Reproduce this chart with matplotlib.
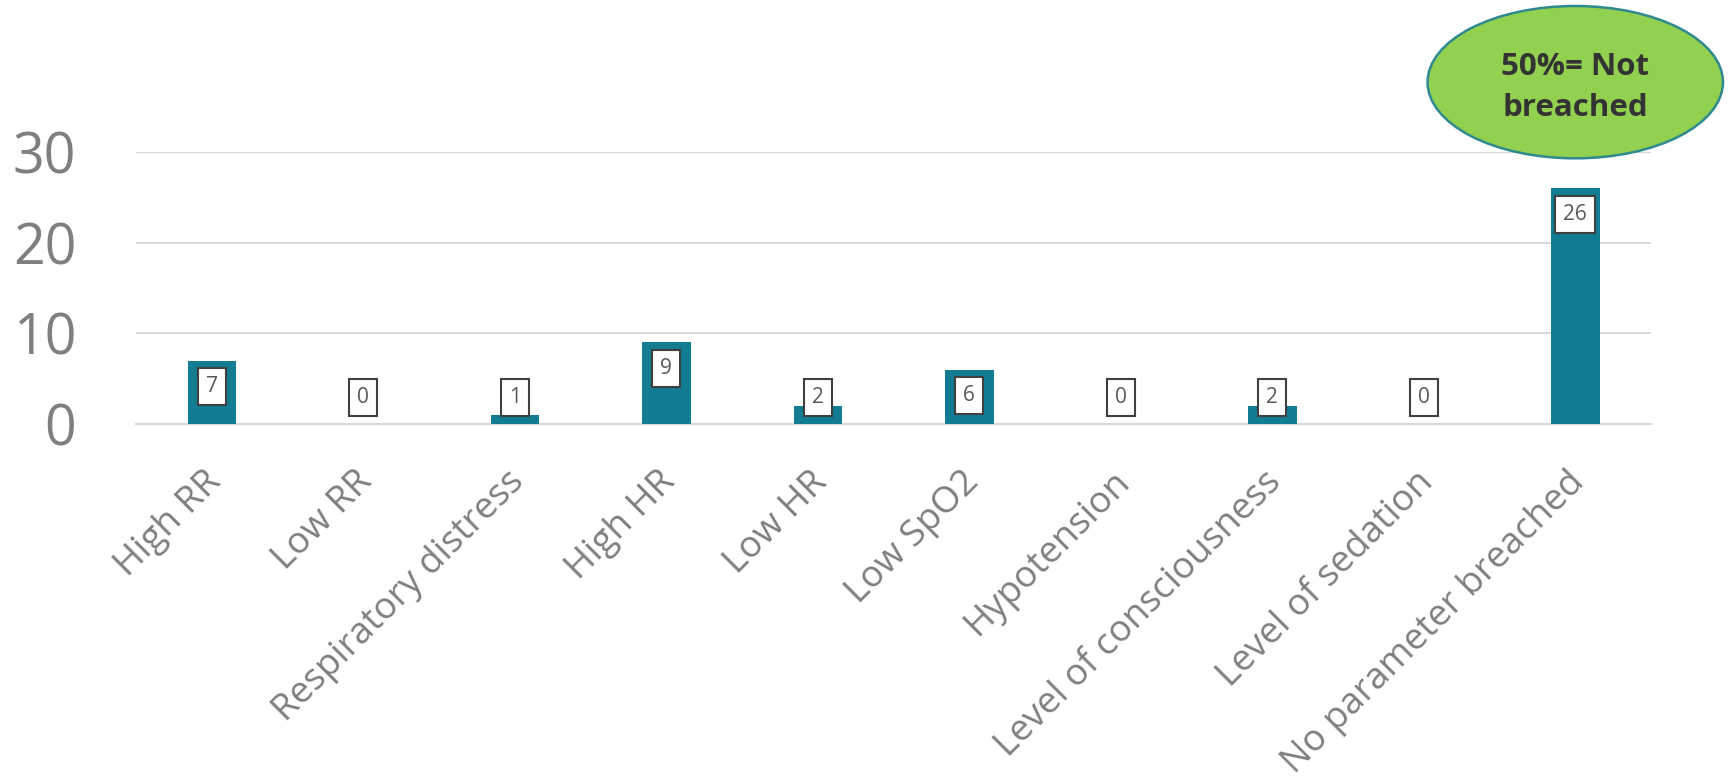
import matplotlib.pyplot as plt
from matplotlib.patches import Ellipse
from matplotlib.transforms import ScaledTranslation

# -----------------------------------------------------------------------
# Data
# -----------------------------------------------------------------------
categories = [
    "High RR", "Low RR", "Respiratory distress", "High HR", "Low HR",
    "Low SpO2", "Hypotension", "Level of consciousness", "Level of sedation",
    "No parameter breached",
]
counts = [7, 0, 1, 9, 2, 6, 0, 2, 0, 26]
y_ticks = [0, 10, 20, 30]
callout_text = "50%= Not\nbreached"

BAR_COLOR = "#127C92"
GRID_COLOR = "#D9D9D9"
TEXT_GRAY = "#7F7F7F"

plt.rcParams["font.family"] = ["Open Sans", "DejaVu Sans"]

fig = plt.figure(figsize=(17.29, 7.83), dpi=100)
ax = fig.add_axes([0.0787, 0.4585, 0.8762, 0.3474])

x = list(range(len(categories)))
ax.bar(x, counts, width=0.32, color=BAR_COLOR, zorder=3)

ax.set_xlim(-0.5, len(categories) - 0.5)
ax.set_ylim(0, 30)
ax.set_yticks(y_ticks)
ax.set_yticklabels([str(t) for t in y_ticks], fontsize=40, color=TEXT_GRAY)
ax.tick_params(axis="y", length=0, pad=43)

# gridlines (including the baseline)
ax.grid(axis="y", color=GRID_COLOR, linewidth=1.5, zorder=0)
for s in ["top", "right", "left"]:
    ax.spines[s].set_visible(False)
ax.spines["bottom"].set_color(GRID_COLOR)
ax.spines["bottom"].set_linewidth(1.5)

# rotated category labels
ax.set_xticks(x)
ax.set_xticklabels(categories, fontsize=26.5, color=TEXT_GRAY, rotation=45,
                   ha="right", va="center", rotation_mode="anchor")
ax.tick_params(axis="x", length=0, pad=38)
shift = ScaledTranslation(0.04, 0, fig.dpi_scale_trans)
for lab in ax.get_xticklabels():
    lab.set_transform(lab.get_transform() + shift)

# data labels (inside end, boxed)
for i, v in enumerate(counts):
    ly = v - 2.9 if v >= 6 else 2.9
    ax.text(i, ly, str(v), ha="center", va="center", fontsize=15,
            color="#595959", zorder=5,
            bbox=dict(boxstyle="square,pad=0.38", facecolor="white",
                      edgecolor="#404040", linewidth=1.5))

# callout ellipse above the last bar
ell = Ellipse((9, 37.7), width=1.95, height=16.8, facecolor="#92D050",
              edgecolor="#2F8A8F", linewidth=1.8, clip_on=False, zorder=6)
ax.add_patch(ell)
ax.text(9, 37.1, callout_text, ha="center", va="center", fontsize=22.5,
        fontweight="bold", color="#333333", linespacing=1.5,
        clip_on=False, zorder=7)

fig.savefig("out.png", dpi=100)
